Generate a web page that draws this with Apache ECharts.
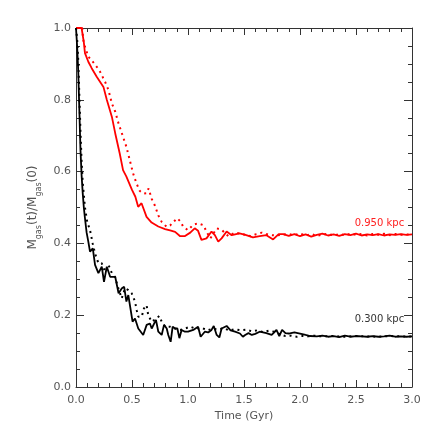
<!DOCTYPE html>
<html>
<head>
<meta charset="utf-8">
<script src="https://cdn.jsdelivr.net/npm/echarts@6/dist/echarts.min.js"></script>
<style>
  html, body { margin: 0; padding: 0; background: #fff; }
  #chart { width: 436px; height: 436px; }
</style>
</head>
<body>
<div id="chart"></div>
<script>
// radius 0.950 kpc, solid run
var redSolidT = [0, 0.05, 0.07, 0.08, 0.11, 0.14, 0.185, 0.245, 0.275, 0.32, 0.35, 0.39, 0.42, 0.45, 0.5, 0.53, 0.555, 0.585, 0.6, 0.63, 0.675, 0.735, 0.795, 0.84, 0.885, 0.93, 0.97, 1.02, 1.06, 1.09, 1.12, 1.165, 1.21, 1.24, 1.27, 1.3, 1.345, 1.39, 1.46, 1.52, 1.58, 1.64, 1.7, 1.76, 1.81, 1.85, 1.9, 1.95, 2.0, 2.05, 2.1, 2.15, 2.2, 2.25, 2.3, 2.35, 2.4, 2.45, 2.5, 2.55, 2.6, 2.65, 2.7, 2.75, 2.8, 2.85, 2.9, 2.95, 3.0];
var redSolidV = [1.0, 1.0, 0.96, 0.93, 0.906, 0.888, 0.864, 0.836, 0.8, 0.753, 0.707, 0.651, 0.604, 0.586, 0.549, 0.53, 0.502, 0.512, 0.507, 0.474, 0.458, 0.447, 0.44, 0.436, 0.432, 0.42, 0.42, 0.43, 0.442, 0.435, 0.41, 0.414, 0.433, 0.423, 0.405, 0.414, 0.433, 0.423, 0.428, 0.423, 0.417, 0.42, 0.423, 0.411, 0.426, 0.426, 0.421, 0.426, 0.42, 0.425, 0.419, 0.424, 0.427, 0.422, 0.425, 0.421, 0.426, 0.423, 0.427, 0.422, 0.425, 0.423, 0.426, 0.422, 0.425, 0.424, 0.426, 0.424, 0.425];

// radius 0.950 kpc, dotted run
var redDotT = [0, 0.055, 0.065, 0.08, 0.11, 0.14, 0.185, 0.215, 0.26, 0.29, 0.32, 0.35, 0.38, 0.42, 0.45, 0.48, 0.51, 0.54, 0.57, 0.6, 0.63, 0.648, 0.676, 0.705, 0.735, 0.765, 0.81, 0.84, 0.87, 0.905, 0.935, 0.958, 1.0, 1.047, 1.09, 1.137, 1.17, 1.2, 1.256, 1.3, 1.36, 1.42, 1.5, 1.56, 1.61, 1.66, 1.72, 1.78, 1.85, 1.9, 1.95, 2.0, 2.05, 2.1, 2.15, 2.2, 2.25, 2.3, 2.35, 2.4, 2.45, 2.5, 2.55, 2.6, 2.65, 2.7, 2.75, 2.8, 2.85, 2.9, 2.95, 3.0];
var redDotV = [1.0, 1.0, 0.967, 0.948, 0.92, 0.91, 0.892, 0.878, 0.85, 0.827, 0.79, 0.767, 0.734, 0.697, 0.669, 0.632, 0.595, 0.567, 0.546, 0.539, 0.54, 0.553, 0.524, 0.505, 0.478, 0.46, 0.446, 0.45, 0.46, 0.47, 0.46, 0.446, 0.437, 0.452, 0.456, 0.451, 0.43, 0.414, 0.442, 0.438, 0.42, 0.43, 0.425, 0.42, 0.426, 0.43, 0.424, 0.422, 0.425, 0.426, 0.423, 0.428, 0.422, 0.426, 0.421, 0.425, 0.427, 0.422, 0.426, 0.423, 0.427, 0.424, 0.426, 0.422, 0.426, 0.424, 0.427, 0.423, 0.426, 0.424, 0.425, 0.425];

// radius 0.300 kpc, solid run
var blackSolidT = [0, 0.01, 0.02, 0.03, 0.04, 0.05, 0.06, 0.07, 0.08, 0.095, 0.11, 0.125, 0.15, 0.17, 0.2, 0.23, 0.25, 0.275, 0.305, 0.35, 0.38, 0.41, 0.43, 0.45, 0.467, 0.505, 0.527, 0.556, 0.6, 0.631, 0.66, 0.676, 0.714, 0.735, 0.765, 0.786, 0.81, 0.824, 0.845, 0.863, 0.885, 0.905, 0.923, 0.943, 0.973, 1.0, 1.047, 1.09, 1.113, 1.13, 1.15, 1.18, 1.21, 1.23, 1.256, 1.28, 1.3, 1.315, 1.345, 1.38, 1.42, 1.464, 1.49, 1.51, 1.54, 1.57, 1.6, 1.64, 1.7, 1.747, 1.77, 1.79, 1.815, 1.84, 1.87, 1.9, 1.95, 2.0, 2.05, 2.09, 2.15, 2.2, 2.25, 2.3, 2.35, 2.4, 2.45, 2.5, 2.55, 2.6, 2.65, 2.7, 2.75, 2.8, 2.85, 2.9, 2.95, 3.0];
var blackSolidV = [1.0, 0.95, 0.88, 0.77, 0.66, 0.59, 0.54, 0.5, 0.47, 0.43, 0.405, 0.377, 0.386, 0.34, 0.317, 0.335, 0.293, 0.335, 0.307, 0.307, 0.261, 0.275, 0.279, 0.238, 0.256, 0.182, 0.191, 0.163, 0.145, 0.173, 0.177, 0.163, 0.187, 0.154, 0.145, 0.173, 0.163, 0.145, 0.126, 0.168, 0.163, 0.163, 0.136, 0.159, 0.154, 0.154, 0.159, 0.168, 0.14, 0.136, 0.154, 0.152, 0.159, 0.17, 0.145, 0.138, 0.163, 0.163, 0.17, 0.158, 0.154, 0.149, 0.14, 0.145, 0.15, 0.145, 0.148, 0.154, 0.15, 0.145, 0.152, 0.159, 0.142, 0.159, 0.15, 0.149, 0.152, 0.149, 0.145, 0.142, 0.141, 0.143, 0.14, 0.142, 0.139, 0.143, 0.14, 0.142, 0.141, 0.14, 0.142, 0.14, 0.141, 0.143, 0.14, 0.141, 0.14, 0.141];

// radius 0.300 kpc, dotted run
var blackDotT = [0, 0.01, 0.02, 0.03, 0.04, 0.05, 0.06, 0.08, 0.1, 0.125, 0.149, 0.17, 0.2, 0.229, 0.26, 0.29, 0.304, 0.32, 0.348, 0.378, 0.408, 0.438, 0.467, 0.497, 0.527, 0.542, 0.556, 0.587, 0.607, 0.63, 0.645, 0.676, 0.72, 0.744, 0.765, 0.795, 0.84, 0.884, 0.93, 0.975, 1.02, 1.07, 1.12, 1.17, 1.22, 1.27, 1.32, 1.37, 1.42, 1.47, 1.52, 1.57, 1.62, 1.67, 1.72, 1.77, 1.82, 1.87, 1.92, 1.97, 2.02, 2.07, 2.12, 2.2, 2.3, 2.4, 2.5, 2.6, 2.7, 2.8, 2.9, 3.0];
var blackDotV = [1.0, 0.97, 0.91, 0.81, 0.71, 0.63, 0.57, 0.5, 0.46, 0.437, 0.4, 0.372, 0.345, 0.345, 0.321, 0.34, 0.34, 0.317, 0.307, 0.275, 0.247, 0.275, 0.27, 0.261, 0.238, 0.214, 0.196, 0.196, 0.219, 0.228, 0.2, 0.182, 0.191, 0.198, 0.182, 0.168, 0.168, 0.163, 0.159, 0.163, 0.168, 0.162, 0.165, 0.158, 0.162, 0.16, 0.164, 0.157, 0.161, 0.158, 0.16, 0.155, 0.158, 0.153, 0.157, 0.154, 0.147, 0.142, 0.143, 0.14, 0.142, 0.141, 0.143, 0.141, 0.142, 0.14, 0.142, 0.141, 0.14, 0.142, 0.141, 0.141];

var curveLabels = ["0.950 kpc", "0.300 kpc"];
var labelPos = [[2.93, 0.457], [2.93, 0.188]];
var xTicks = [0, 0.5, 1.0, 1.5, 2.0, 2.5, 3.0];
var yTicks = [0, 0.2, 0.4, 0.6, 0.8, 1.0];

function pairs(t, v) {
  return t.map(function (x, i) { return [x, v[i]]; });
}

var font = "DejaVu Sans";
var textColor = "#555";
var axisColor = "#333";

var chart = echarts.init(document.getElementById("chart"));

function xAx(bottom) {
  return {
    type: "value", position: bottom ? "bottom" : "top",
    min: xTicks[0], max: xTicks[xTicks.length - 1], interval: 0.5,
    name: bottom ? "Time (Gyr)" : "", nameLocation: "middle", nameGap: 22,
    nameTextStyle: { fontFamily: font, fontSize: 11, color: textColor },
    axisLine: { show: true, onZero: false, lineStyle: { color: axisColor, width: 1 } },
    axisTick: { show: true, inside: true, length: 7, lineStyle: { color: axisColor } },
    minorTick: { show: true, splitNumber: 5, length: 4, lineStyle: { color: axisColor } },
    axisLabel: { show: bottom, margin: 8, fontFamily: font, fontSize: 11, color: textColor,
      formatter: function (v) { return v.toFixed(1); } },
    splitLine: { show: false }
  };
}
function yAx(left) {
  return {
    type: "value", position: left ? "left" : "right",
    min: yTicks[0], max: yTicks[yTicks.length - 1], interval: 0.2,
    name: left ? "M{sub|gas}(t)/M{sub|gas}(0)" : "", nameLocation: "middle", nameGap: 24,
    nameTextStyle: { fontFamily: font, fontSize: 12, color: textColor,
      rich: { sub: { fontFamily: font, fontSize: 8, color: textColor, padding: [12, 0, 0, 0] } } },
    axisLine: { show: true, onZero: false, lineStyle: { color: axisColor, width: 1 } },
    axisTick: { show: true, inside: true, length: 8, lineStyle: { color: axisColor } },
    minorTick: { show: true, splitNumber: 4, length: 4, lineStyle: { color: axisColor } },
    axisLabel: { show: left, margin: 5, fontFamily: font, fontSize: 11, color: textColor,
      formatter: function (v) { return v.toFixed(1); } },
    splitLine: { show: false }
  };
}

function line(t, v, color, dotted) {
  return {
    type: "line", data: pairs(t, v), showSymbol: false, symbol: "none",
    lineStyle: { color: color, width: dotted ? 2 : 1.8, type: dotted ? [2, 4] : "solid" },
    z: dotted ? 2 : 3
  };
}

var s1 = line(redSolidT, redSolidV, "#ff0000", false);
var s2 = line(redDotT, redDotV, "#ff0000", true);
var s3 = line(blackSolidT, blackSolidV, "#000000", false);
var s4 = line(blackDotT, blackDotV, "#000000", true);

function tag(i, color) {
  return {
    symbol: "circle", symbolSize: 0, silent: true,
    label: { show: true, position: "left", distance: 0, fontFamily: font, fontSize: 10, color: color,
      formatter: curveLabels[i] },
    data: [{ coord: labelPos[i] }]
  };
}
s1.markPoint = tag(0, "#ff2020");
s3.markPoint = tag(1, "#333");

chart.setOption({
  animation: false,
  backgroundColor: "#fff",
  grid: { left: 76, right: 24, top: 28, bottom: 49 },
  xAxis: [xAx(true), xAx(false)],
  yAxis: [yAx(true), yAx(false)],
  series: [s2, s4, s1, s3]
});
</script>
</body>
</html>
